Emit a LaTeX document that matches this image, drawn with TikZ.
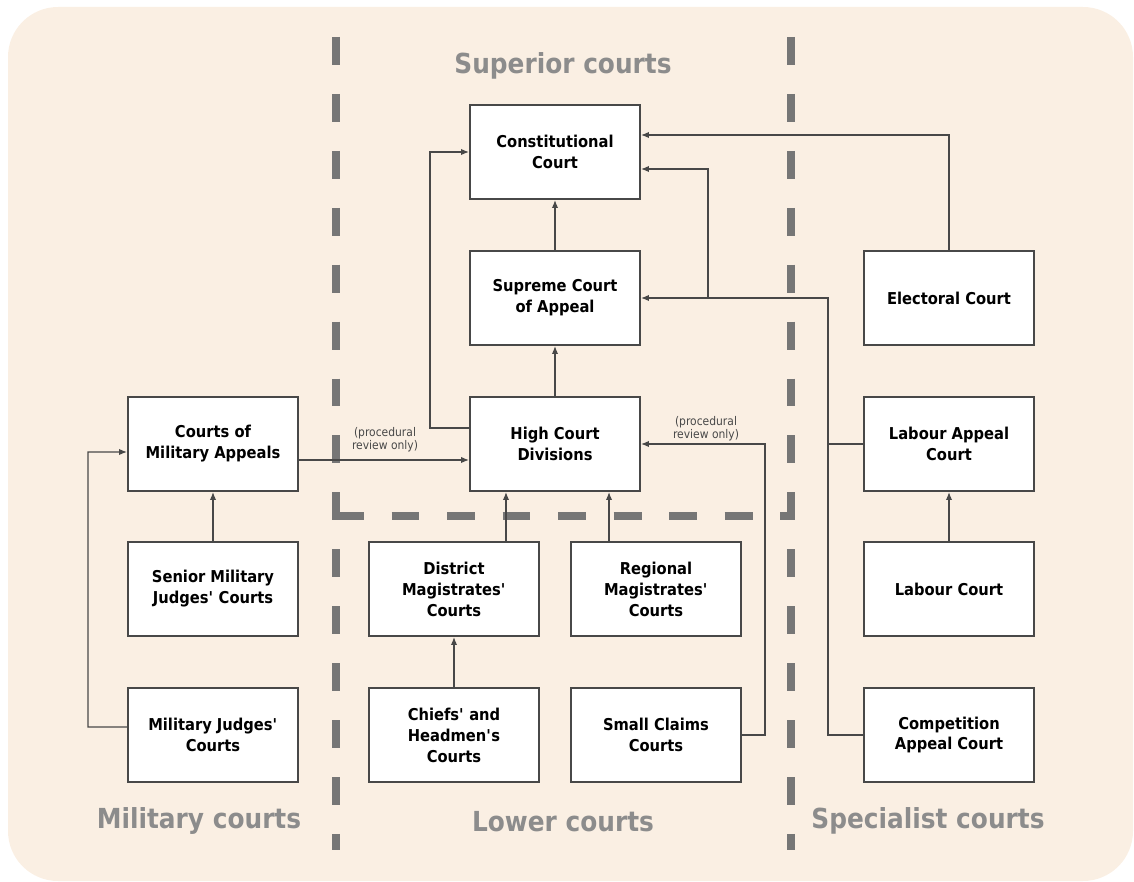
\documentclass[tikz,border=0pt]{standalone}
\usepackage{fontspec}
\setmainfont{DejaVu Sans}[FakeStretch=0.9]
\usetikzlibrary{arrows.meta}
\definecolor{panelbg}{RGB}{250,239,227}
\definecolor{regiongray}{RGB}{118,118,118}
\definecolor{labelgray}{RGB}{140,140,140}
\definecolor{linegray}{RGB}{72,72,72}

\begin{document}
\begin{tikzpicture}[x=0.02cm, y=-0.02cm,
	court/.style={draw=linegray, line width=1.1pt, fill=white, minimum width=3.4cm, minimum height=1.88cm, inner sep=0pt, align=center, font=\fontsize{9.3}{11.9}\selectfont\bfseries},
	link/.style={draw=linegray, line width=0.8pt, -{Latex[length=4.5pt,width=3.6pt]}},
	region/.style={draw=regiongray, line width=4.5pt, dash pattern=on 15.9pt off 16.5pt},
	heading/.style={text=labelgray, font=\fontsize{15.7}{18}\selectfont\bfseries},
	note/.style={text=linegray, align=center, font=\fontsize{6.8}{7.4}\selectfont}]
		\useasboundingbox (0,0) rectangle (1134,882);
		\fill[panelbg, rounded corners=1cm] (8,7) rectangle (1133,881);
		
		% region borders
		\draw[region] (336,37) -- (336,850);
		\draw[region] (791,37) -- (791,850);
		\draw[region, dash pattern=on 15.9pt off 15.7pt] (336,516) -- (791,516);
		
		\node[heading] (sup) at (563,66) {Superior courts};
		\node[heading] (mil) at (199,821) {Military courts};
		\node[heading] (low) at (563,822) {Lower courts};
		\node[heading] (spe) at (928,821) {Specialist courts};
		
		\foreach \n/\x/\y/\t in {cc/555/152/{Constitutional\\Court}, sca/555/298/{Supreme Court\\of Appeal}, hcd/555/444/{High Court\\Divisions},
			cma/213/444/{Courts of\\Military Appeals}, smj/213/589/{Senior Military\\Judges\textquotesingle{} Courts}, mjc/213/735/{Military Judges\textquotesingle\\Courts},
			dmc/454/589/{District\\Magistrates\textquotesingle\\Courts}, rmc/656/589/{Regional\\Magistrates\textquotesingle\\Courts}, chc/454/735/{Chiefs\textquotesingle{} and\\Headmen\textquotesingle s\\Courts}, scc/656/735/{Small Claims\\Courts},
			ec/949/298/{Electoral Court}, lac/949/444/{Labour Appeal\\Court}, lc/949/589/{Labour Court}, cac/949/735/{Competition\\Appeal Court}}
		{
			\node[court] (\n) at (\x,\y) {\t};
		}
		
		\coordinate (spine) at (828,298);
		\coordinate (fork) at (708,298);
		
		\draw[link] (sca.north) -- (cc.south);
		\draw[link] (hcd.north) -- (sca.south);
		\draw[link] ([yshift=3.2mm]hcd.west) -| (430,152) -- (cc.west);
		\draw[link] (ec.north) |- ([yshift=3.4mm]cc.east);
		\draw[link] (cac.west) -| (spine) -- (sca.east);
		\draw[linegray, line width=0.8pt] (lac.west) -- (lac.west -| spine);
		\draw[link] (fork) |- ([yshift=-3.4mm]cc.east);
		\draw[link] (scc.east) -| (765,444) -- (hcd.east);
		\draw[link] ([yshift=-3.2mm]cma.east) -- ([yshift=-3.2mm]hcd.west);
		\draw[link] ([yshift=1.6mm]mjc.west) -| (88,452) -- ([yshift=-1.6mm]cma.west);
		\draw[link] (smj.north) -- (cma.south);
		\draw[link] ([xshift=10.4mm]dmc.north) -- ([xshift=10.4mm]dmc.north |- hcd.south);
		\draw[link] ([xshift=-9.4mm]rmc.north) -- ([xshift=-9.4mm]rmc.north |- hcd.south);
		\draw[link] (chc.north) -- (dmc.south);
		\draw[link] (lc.north) -- (lac.south);
		
		\node[note] (pr1) at (385,440) {(procedural\\review only)};
		\node[note] (pr2) at (706,429) {(procedural\\review only)};
	\end{tikzpicture}
\end{document}
